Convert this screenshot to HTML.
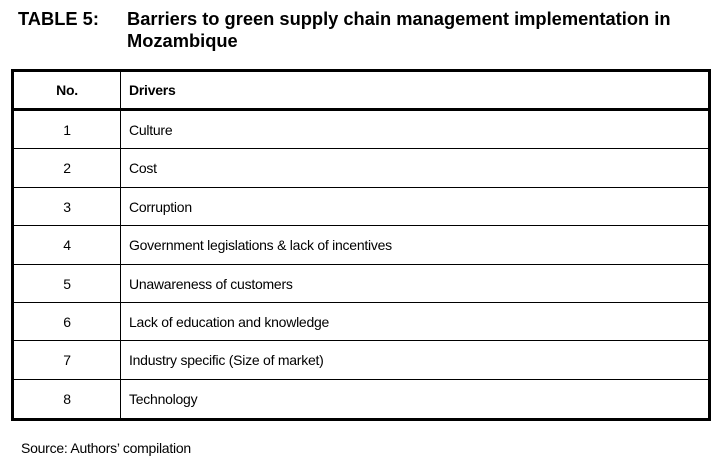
<!DOCTYPE html>
<html><head><meta charset="utf-8"><style>
body{margin:0;width:722px;height:470px;background:#fff;font-family:"Liberation Sans",Arial,sans-serif;color:#000;position:relative;overflow:hidden}
.t{position:absolute;font-weight:bold;font-size:18.3px;line-height:22px}
#tbl{position:absolute;left:11px;top:69px;width:694px;height:346px;border:3px solid #000}
.row{position:absolute;left:0;width:694px;border-bottom:1px solid #000;font-size:14px;letter-spacing:-0.25px}
.c1{position:absolute;left:0;width:106px;text-align:center}
.c2{position:absolute;left:115px}
#vd{position:absolute;left:106px;top:0;width:1px;height:346px;background:#000}
#src{position:absolute;left:21px;top:440px;font-size:14px;letter-spacing:-0.25px}
</style></head><body>
<div class="t" style="left:18px;top:8px">TABLE 5:</div>
<div class="t" style="left:127px;top:8px">Barriers to green supply chain management implementation in<br>Mozambique</div>
<div id="tbl">
<div id="vd"></div>
<div class="row" style="top:0;height:36px;border-bottom:3px solid #000;font-weight:bold"><span class="c1" style="top:10px">No.</span><span class="c2" style="top:10px">Drivers</span></div>
</div>
<div id="src">Source: Authors’ compilation</div>
<script>
const nums=["1","2","3","4","5","6","7","8"];
const drivers=["Culture","Cost","Corruption","Government legislations & lack of incentives","Unawareness of customers","Lack of education and knowledge","Industry specific (Size of market)","Technology"];
const tbl=document.getElementById('tbl');
const rh=38.4;
nums.forEach((n,i)=>{
 const r=document.createElement('div');
 r.className='row';
 
 
 r.style.top=(39+i*rh)+'px';
 r.style.height=(rh-1)+'px';
 if(i===nums.length-1)r.style.borderBottom='none';
 r.innerHTML='<span class="c1" style="top:11px">'+n+'</span><span class="c2" style="top:11px"></span>';
 r.querySelector('.c2').textContent=drivers[i];
 tbl.appendChild(r);
});
</script>
</body></html>
